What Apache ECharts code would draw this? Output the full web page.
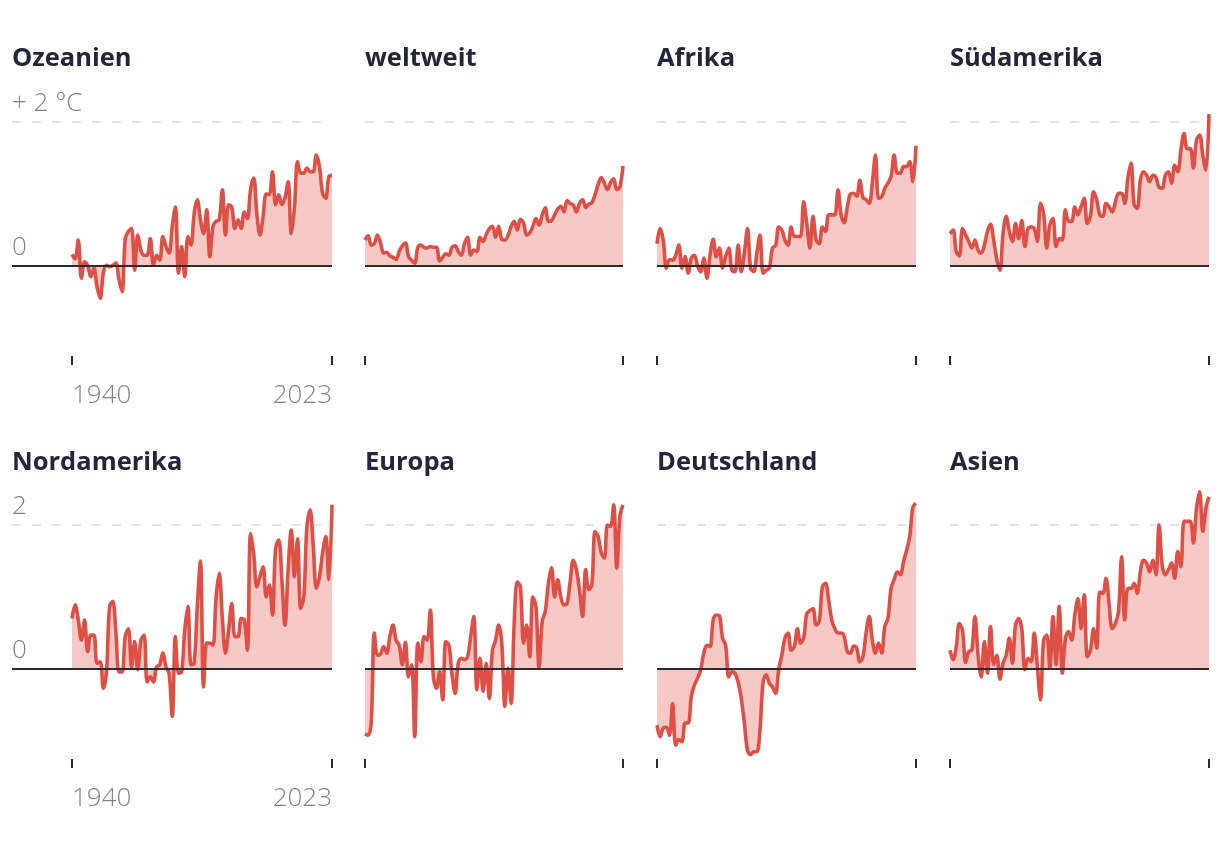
<!DOCTYPE html>
<html><head><meta charset="utf-8">
<script src="https://cdn.jsdelivr.net/npm/echarts@6/dist/echarts.min.js"></script>
<style>html,body{margin:0;padding:0;background:#fff}#c{width:1220px;height:866px}</style>
</head><body><div id="c"></div>
<script>
const START_YEAR = 1940;
const END_YEAR = 2023;
const regions = ['Ozeanien', 'weltweit', 'Afrika', 'Südamerika', 'Nordamerika', 'Europa', 'Deutschland', 'Asien'];
const xTickLabels = ['1940', '2023'];
const yTickLabelsRow1 = ['0', '+ 2 °C'];
const yTickLabelsRow2 = ['0', '2'];

const ozeanien = [0.16, 0.10, 0.36, -0.17, 0.06, 0.01, -0.15, -0.03, -0.29, -0.45,
  -0.10, 0.01, -0.01, 0.01, 0.04, -0.19, -0.36, 0.38, 0.48, 0.52,
  -0.06, 0.43, 0.22, 0.15, 0.15, 0.38, 0.01, 0.15, 0.08, 0.41,
  0.27, 0.18, 0.55, 0.82, -0.10, 0.27, -0.15, 0.41, 0.29, 0.73,
  0.92, 0.64, 0.45, 0.78, 0.13, 0.55, 0.62, 0.64, 1.06, 0.43,
  0.85, 0.82, 0.52, 0.64, 0.52, 0.75, 0.66, 1.06, 1.22, 0.73,
  0.43, 0.68, 1.00, 0.99, 1.31, 0.85, 0.99, 0.85, 0.95, 1.17,
  0.45, 0.80, 1.45, 1.29, 1.29, 1.36, 1.31, 1.31, 1.54, 1.38,
  1.01, 0.94, 1.24, 1.26];
const weltweit = [0.36, 0.42, 0.29, 0.31, 0.43, 0.32, 0.18, 0.19, 0.14, 0.12,
  0.09, 0.20, 0.28, 0.32, 0.13, 0.08, 0.04, 0.26, 0.29, 0.26,
  0.25, 0.27, 0.26, 0.26, 0.07, 0.12, 0.17, 0.15, 0.26, 0.28,
  0.20, 0.15, 0.31, 0.40, 0.15, 0.22, 0.20, 0.40, 0.34, 0.44,
  0.52, 0.55, 0.40, 0.55, 0.37, 0.36, 0.42, 0.55, 0.62, 0.50,
  0.65, 0.60, 0.43, 0.46, 0.55, 0.66, 0.57, 0.71, 0.81, 0.62,
  0.63, 0.71, 0.79, 0.83, 0.75, 0.91, 0.87, 0.85, 0.75, 0.87,
  0.92, 0.81, 0.86, 0.88, 0.99, 1.13, 1.23, 1.15, 1.06, 1.16,
  1.21, 1.06, 1.10, 1.39];
const afrika = [0.31, 0.52, 0.36, -0.03, 0.09, 0.08, 0.15, 0.29, -0.03, 0.13,
  -0.10, 0.11, 0.15, 0.00, -0.08, 0.11, -0.17, 0.15, 0.37, 0.13,
  0.25, -0.03, 0.13, 0.25, -0.06, -0.08, 0.29, -0.08, 0.18, 0.52,
  -0.03, -0.08, 0.18, 0.43, -0.10, -0.06, -0.03, 0.25, 0.28, 0.54,
  0.50, 0.36, 0.29, 0.54, 0.41, 0.41, 0.41, 0.89, 0.59, 0.25,
  0.69, 0.36, 0.31, 0.54, 0.48, 0.71, 0.71, 0.71, 1.06, 0.71,
  0.60, 0.82, 1.00, 1.01, 0.97, 1.19, 0.95, 0.92, 0.87, 1.15,
  1.54, 0.94, 0.96, 1.08, 1.15, 1.24, 1.54, 1.29, 1.29, 1.38,
  1.38, 1.45, 1.17, 1.67];
const suedamerika = [0.45, 0.50, 0.20, 0.14, 0.52, 0.43, 0.34, 0.25, 0.36, 0.22,
  0.18, 0.29, 0.48, 0.58, 0.36, 0.09, -0.06, 0.45, 0.69, 0.48,
  0.34, 0.59, 0.38, 0.63, 0.27, 0.52, 0.54, 0.52, 0.34, 0.87,
  0.73, 0.25, 0.57, 0.66, 0.27, 0.38, 0.36, 0.78, 0.62, 0.62,
  0.82, 0.71, 0.82, 0.94, 0.59, 0.69, 1.03, 0.92, 0.71, 0.69,
  0.87, 0.82, 0.75, 0.89, 1.01, 1.01, 0.87, 1.22, 1.43, 0.85,
  0.80, 1.19, 1.31, 1.26, 1.17, 1.26, 1.23, 1.09, 1.08, 1.26,
  1.31, 1.15, 1.40, 1.31, 1.61, 1.84, 1.63, 1.63, 1.36, 1.75,
  1.82, 1.54, 1.33, 2.11];
const nordamerika = [0.70, 0.89, 0.68, 0.40, 0.68, 0.24, 0.47, 0.47, 0.08, 0.10,
  -0.27, -0.04, 0.87, 0.94, 0.52, -0.04, -0.04, 0.45, 0.56, 0.03,
  0.38, -0.01, 0.40, 0.47, -0.18, -0.11, -0.18, 0.03, 0.06, 0.22,
  0.03, -0.06, -0.66, 0.45, -0.06, -0.04, 0.54, 0.87, 0.06, 0.08,
  0.87, 1.50, -0.25, 0.36, 0.36, 0.33, 1.00, 1.33, 0.70, 0.22,
  0.54, 0.91, 0.45, 0.45, 0.70, 0.68, 0.26, 1.88, 1.60, 1.14,
  1.28, 1.42, 1.00, 1.17, 0.75, 1.68, 1.79, 1.24, 0.61, 1.38,
  1.93, 1.28, 1.81, 0.84, 1.00, 1.98, 2.21, 1.72, 1.12, 1.28,
  1.61, 1.84, 1.24, 2.28];
const europa = [-0.90, -0.92, -0.75, 0.50, 0.19, 0.21, 0.31, 0.22, 0.45, 0.61,
  0.40, 0.33, 0.06, 0.37, -0.11, 0.06, -0.94, 0.36, 0.10, 0.45,
  0.40, 0.82, -0.11, -0.27, -0.04, -0.43, 0.38, 0.33, -0.08, -0.34,
  0.08, 0.15, 0.13, 0.17, 0.45, 0.73, -0.29, 0.15, -0.31, 0.08,
  -0.41, 0.26, 0.40, 0.61, 0.36, -0.52, 0.01, -0.48, 0.63, 1.21,
  1.14, 0.36, 0.61, 0.17, 1.00, 0.87, 0.01, 0.66, 0.80, 1.19,
  1.41, 1.00, 1.24, 1.00, 0.89, 0.91, 1.21, 1.51, 1.38, 1.10,
  0.73, 1.38, 1.10, 1.17, 1.91, 1.84, 1.61, 1.54, 2.00, 1.98,
  2.28, 1.40, 2.12, 2.28];
const deutschland = [-0.78, -0.94, -0.82, -0.81, -0.92, -0.48, -1.06, -0.98, -1.01, -0.75,
  -0.75, -0.38, -0.22, -0.13, -0.01, 0.22, 0.33, 0.31, 0.68, 0.75,
  0.74, 0.43, 0.33, -0.11, -0.04, -0.06, -0.18, -0.41, -0.75, -1.13,
  -1.19, -1.15, -1.15, -0.85, -0.18, -0.08, -0.20, -0.25, -0.34, -0.01,
  0.19, 0.43, 0.50, 0.26, 0.31, 0.56, 0.36, 0.43, 0.77, 0.81,
  0.84, 0.61, 0.66, 1.14, 1.19, 0.96, 0.68, 0.56, 0.50, 0.50,
  0.45, 0.24, 0.22, 0.32, 0.29, 0.10, 0.17, 0.50, 0.73, 0.40,
  0.22, 0.36, 0.22, 0.59, 0.70, 1.12, 1.24, 1.35, 1.31, 1.49,
  1.65, 1.84, 2.25, 2.30];
const asien = [0.26, 0.13, 0.31, 0.63, 0.54, 0.09, 0.24, 0.26, 0.73, 0.19,
  -0.11, 0.38, -0.06, 0.59, 0.06, 0.19, -0.14, 0.08, 0.19, 0.43,
  0.08, 0.61, 0.70, 0.56, -0.01, 0.15, 0.10, 0.50, 0.03, -0.43,
  0.40, 0.47, 0.01, 0.73, 0.06, 0.87, -0.06, 0.43, 0.52, 0.40,
  0.75, 0.98, 0.56, 1.03, 0.17, 0.26, 0.56, 0.29, 1.07, 1.05,
  1.26, 0.89, 0.56, 0.63, 0.80, 1.56, 0.68, 1.12, 1.12, 1.19,
  1.05, 1.35, 1.51, 1.47, 1.35, 1.51, 1.31, 2.00, 1.44, 1.31,
  1.38, 1.47, 1.26, 1.63, 1.42, 2.05, 2.05, 2.05, 1.75, 2.23,
  2.46, 1.91, 2.23, 2.39];

const seriesValues = [ozeanien, weltweit, afrika, suedamerika, nordamerika, europa, deutschland, asien];

// ---- layout ----
const COL_LEFT = [12, 365, 657, 950];
const COL_RIGHT = [332, 623, 916, 1209];
const COL0_DATA_LEFT = 72;
const ROW_TOP = [86, 489];
const PLOT_H = 270;
const Y_MIN = -1.25, Y_MAX = 2.5;
const FONT = '"Open Sans", "Noto Sans", sans-serif';
const RED = '#de5045';
const AREA = '#f6c9c6';
const GRAY = '#838383';
const DARK = '#2b2b2b';

const years = [];
for (let y = START_YEAR; y <= END_YEAR; y++) years.push(y);

const grid = [], xAxis = [], yAxis = [], series = [], title = [];

const labelStyle = {fontSize: 26, fontWeight: 300, color: GRAY, fontFamily: FONT};

seriesValues.forEach((vals, i) => {
  const row = Math.floor(i / 4), col = i % 4;
  const left = COL_LEFT[col], right = COL_RIGHT[col];
  grid.push({left: left, top: ROW_TOP[row], width: right - left, height: PLOT_H, containLabel: false});
  const gi = grid.length - 1;
  let xMin = START_YEAR;
  if (col === 0) {
    xMin = START_YEAR - (COL0_DATA_LEFT - left) * (END_YEAR - START_YEAR) / (right - COL0_DATA_LEFT);
  }
  const xi = xAxis.length;
  xAxis.push({
    type: 'value', gridIndex: gi, min: xMin, max: END_YEAR, position: 'bottom',
    axisLine: {show: false, onZero: false}, splitLine: {show: false},
    axisTick: {show: true, customValues: [START_YEAR, END_YEAR], length: 9, lineStyle: {color: DARK, width: 2}},
    axisLabel: col === 0 ? Object.assign({
      show: true, customValues: [START_YEAR], formatter: () => xTickLabels[0],
      align: 'left', verticalAlign: 'top', margin: 25, lineHeight: 30
    }, labelStyle) : {show: false}
  });
  if (col === 0) {
    xAxis.push({
      type: 'value', gridIndex: gi, min: xMin, max: END_YEAR, position: 'bottom', offset: 0,
      axisLine: {show: false, onZero: false}, splitLine: {show: false}, axisTick: {show: false},
      axisLabel: Object.assign({
        show: true, customValues: [END_YEAR], formatter: () => xTickLabels[1],
        align: 'right', verticalAlign: 'top', margin: 25, lineHeight: 30
      }, labelStyle)
    });
  }
  const yLabels = row === 0 ? yTickLabelsRow1 : yTickLabelsRow2;
  const yi = yAxis.length;
  yAxis.push({
    type: 'value', gridIndex: gi, min: Y_MIN, max: Y_MAX,
    axisLine: {show: false, onZero: false}, axisTick: {show: false}, splitLine: {show: false},
    axisLabel: col === 0 ? Object.assign({
      show: true, inside: true, customValues: [0, 2],
      formatter: v => (v === 0 ? yLabels[0] : yLabels[1]),
      margin: 0, verticalAlign: 'bottom', lineHeight: 36
    }, labelStyle) : {show: false}
  });
  const data = years.map((y, k) => [y, vals[k]]);
  series.push({
    type: 'line', name: regions[i], xAxisIndex: xi, yAxisIndex: yi, data: data, z: 2,
    showSymbol: false, smooth: 0.35,
    lineStyle: {color: RED, width: 3.6},
    areaStyle: {color: AREA, opacity: 1},
    markLine: {silent: true, z: 5, symbol: ['none', 'none'], label: {show: false},
      lineStyle: {color: DARK, type: 'solid', width: 2}, data: [{yAxis: 0}]}
  });
  // dashed +2 guide (below the line)
  series.push({
    type: 'line', xAxisIndex: xi, yAxisIndex: yi, data: data, z: 1, silent: true,
    showSymbol: false, lineStyle: {opacity: 0, width: 0},
    markLine: {silent: true, z: 1, symbol: ['none', 'none'], label: {show: false},
      lineStyle: {color: '#e3e3e3', type: [9, 11], width: 2}, data: [{yAxis: 2}]}
  });
  title.push({
    text: regions[i], left: left, top: row === 0 ? 44 : 448, padding: 0,
    textStyle: {fontSize: 25.5, fontWeight: 'bold', color: '#24253a', fontFamily: FONT, lineHeight: 30}
  });
});

const chart = echarts.init(document.getElementById('c'));
chart.setOption({
  animation: false,
  backgroundColor: '#fff',
  title: title, grid: grid, xAxis: xAxis, yAxis: yAxis, series: series
});
</script>
</body></html>
